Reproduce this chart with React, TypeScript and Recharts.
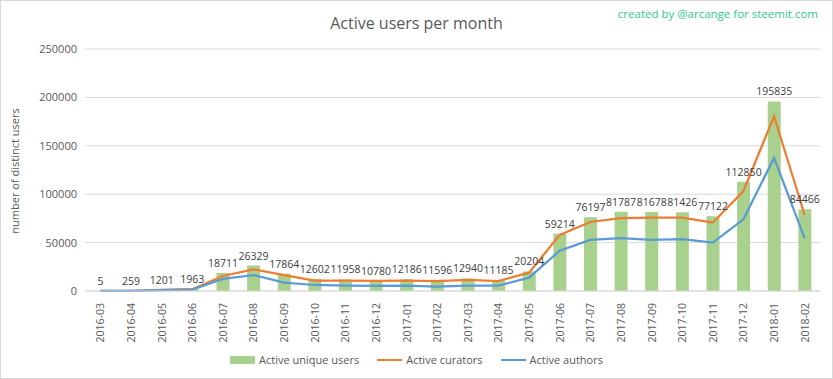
import { ComposedChart, Bar, Line, XAxis, YAxis, CartesianGrid, LabelList } from 'recharts'

const months = [
  '2016-03', '2016-04', '2016-05', '2016-06', '2016-07', '2016-08', '2016-09', '2016-10',
  '2016-11', '2016-12', '2017-01', '2017-02', '2017-03', '2017-04', '2017-05', '2017-06',
  '2017-07', '2017-08', '2017-09', '2017-10', '2017-11', '2017-12', '2018-01', '2018-02',
]

const uniqueUsers = [
  5, 259, 1201, 1963, 18711, 26329, 17864, 12602, 11958, 10780, 12186, 11596,
  12940, 11185, 20204, 59214, 76197, 81787, 81678, 81426, 77122, 112850, 195835, 84466,
]

const curators = [
  5, 250, 1100, 1900, 15500, 22400, 16500, 10700, 10700, 10500, 10600, 10300,
  11400, 10300, 18900, 57900, 71300, 75400, 75700, 75700, 70600, 103300, 180500, 78500,
]

const authors = [
  3, 150, 800, 1500, 12500, 16500, 8600, 6200, 5500, 5200, 5500, 4500,
  5500, 5500, 13800, 41600, 52700, 54700, 52700, 53700, 49900, 74000, 137500, 54400,
]

const yTicks = [0, 50000, 100000, 150000, 200000, 250000]

const data = months.map((m, i) => ({
  month: m,
  users: uniqueUsers[i],
  curators: curators[i],
  authors: authors[i],
}))

const FONT = '"Open Sans", sans-serif'
const TEXT = '#595959'

const MonthTick = ({ x, y, payload }: any) => (
  <g transform={`translate(${x},${y + 4})`}>
    <text transform="rotate(-90)" textAnchor="end" dy={4} fontSize={10.5} fill={TEXT} fontFamily={FONT}>
      {payload.value}
    </text>
  </g>
)

const legendItems = [
  { label: 'Active unique users', color: '#a9d18e', bar: true },
  { label: 'Active curators', color: '#ed7d31', bar: false },
  { label: 'Active authors', color: '#5b9bd5', bar: false },
]

export default function App() {
  return (
    <div
      style={{
        position: 'absolute',
        left: 0,
        top: 0,
        width: 833,
        height: 379,
        background: '#fff',
        border: '1px solid #d9d9d9',
        boxSizing: 'border-box',
        fontFamily: FONT,
      }}
    >
      <div style={{ position: 'absolute', top: 11, width: '100%', textAlign: 'center', fontSize: 16, color: TEXT }}>
        Active users per month
      </div>
      <div style={{ position: 'absolute', top: 5, right: 14, fontSize: 11.5, color: '#2ec99a' }}>
        created by @arcange for steemit.com
      </div>
      <div
        style={{
          position: 'absolute',
          left: 13,
          top: 170,
          transform: 'translate(-50%, -50%) rotate(-90deg)',
          fontSize: 11,
          color: TEXT,
          whiteSpace: 'nowrap',
        }}
      >
        number of distinct users
      </div>
      <ComposedChart
        width={831}
        height={377}
        data={data}
        margin={{ top: 48, right: 12, bottom: 27, left: 0 }}
        barCategoryGap={0}
      >
        <CartesianGrid vertical={false} stroke="#d9d9d9" />
        <XAxis
          dataKey="month"
          interval={0}
          height={60}
          tick={<MonthTick />}
          tickLine={false}
          axisLine={{ stroke: '#d9d9d9' }}
        />
        <YAxis
          width={84}
          domain={[0, 250000]}
          ticks={yTicks}
          tick={{ fontSize: 11, fill: TEXT, fontFamily: FONT }}
          tickLine={false}
          axisLine={false}
        />
        <Bar dataKey="users" fill="#a9d18e" barSize={13} isAnimationActive={false}>
          <LabelList dataKey="users" position="top" offset={6} fontSize={10.5} fill="#404040" fontFamily={FONT} />
        </Bar>
        <Line type="linear" dataKey="curators" stroke="#ed7d31" strokeWidth={2.25} dot={false} isAnimationActive={false} />
        <Line type="linear" dataKey="authors" stroke="#5b9bd5" strokeWidth={2.25} dot={false} isAnimationActive={false} />
      </ComposedChart>
      <div
        style={{
          position: 'absolute',
          top: 351,
          width: '100%',
          display: 'flex',
          justifyContent: 'center',
          gap: 18,
          fontSize: 11,
          color: TEXT,
        }}
      >
        {legendItems.map((it) => (
          <div key={it.label} style={{ display: 'flex', alignItems: 'center', gap: 4 }}>
            <span
              style={{
                display: 'inline-block',
                width: 25,
                height: it.bar ? 8 : 2,
                background: it.color,
              }}
            />
            <span>{it.label}</span>
          </div>
        ))}
      </div>
    </div>
  )
}
